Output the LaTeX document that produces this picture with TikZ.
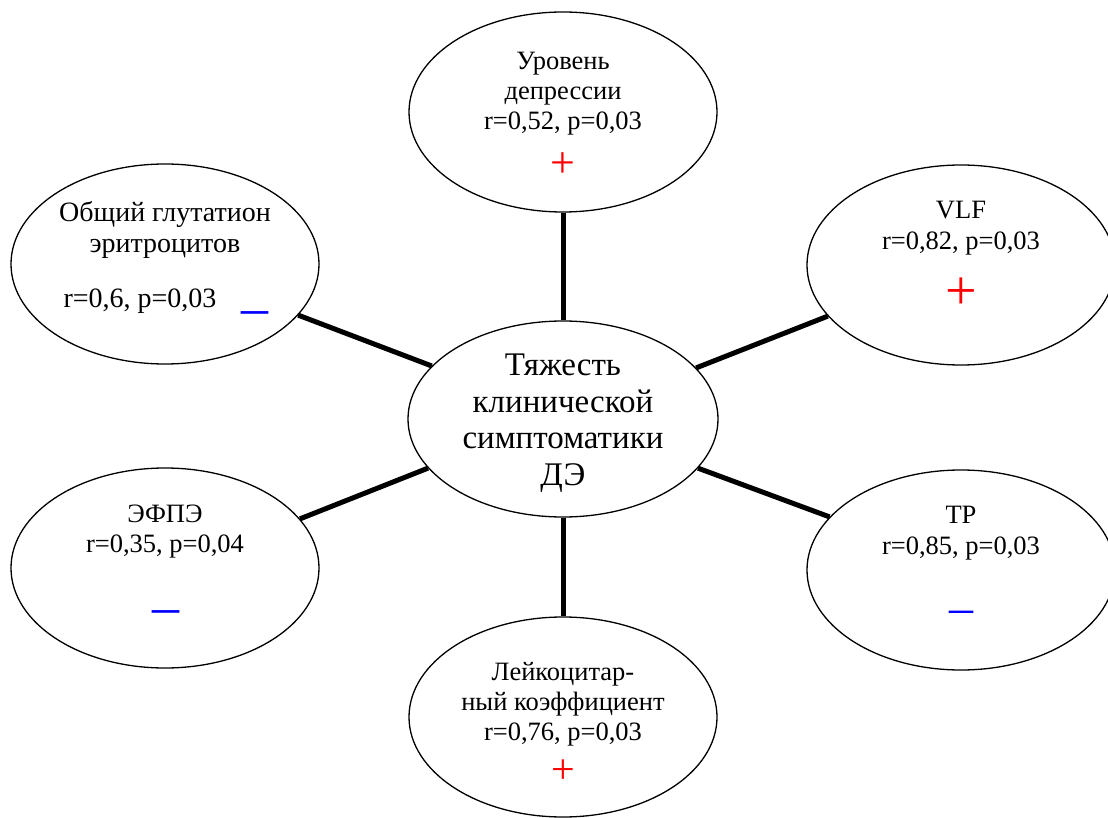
\documentclass[tikz,border=0pt]{standalone}
\usepackage{fontspec}
\setmainfont{Liberation Serif}
\usetikzlibrary{shapes.geometric}
\begin{document}
\begin{tikzpicture}[x=1pt,y=-1pt,
  ell/.style={draw,ellipse,line width=1.3pt,inner sep=0pt,minimum width=308pt,minimum height=200pt},
  conn/.style={line width=5pt},
  lbl/.style={inner sep=0pt,anchor=base,font=\fontsize{26.5}{30}\selectfont},
  lblbig/.style={inner sep=0pt,anchor=base,font=\fontsize{28}{31}\selectfont},
  title/.style={inner sep=0pt,anchor=base,font=\fontsize{33}{37}\selectfont},
  plussign/.style={inner sep=0pt,anchor=base,text=red},
  minussign/.style={inner sep=0pt,anchor=base,text=blue}]
\useasboundingbox[fill=white] (0,0) rectangle (1108,818);

% ellipses
\node[ell] (top) at (563,112) {};
\node[ell] (tl) at (165,264) {};
\node[ell] (tr) at (961,265) {};
\node[ell,minimum width=310pt,minimum height=196pt] (c) at (563,419) {};
\node[ell] (bl) at (165,568) {};
\node[ell] (br) at (961,570) {};
\node[ell] (b) at (563,717) {};

% connectors
\draw[conn] (top.south) -- (c.north);
\draw[conn] (c.south) -- (b.north);
\draw[conn] (tl.-21.9) -- (c.158.3);
\draw[conn] (c.21.9) -- (tr.201.4);
\draw[conn] (c.200.6) -- (bl.20.6);
\draw[conn] (c.-20.4) -- (br.158.6);

% centre text
\node[title] (c1) at (563,375) {Тяжесть};
\node[title] (c2) at (563,412) {клинической};
\node[title] (c3) at (563,448) {симптоматики};
\node[title] (c4) at (563,485) {ДЭ};

% top
\node[lbl] (top1) at (563,70) {Уровень};
\node[lbl] (top2) at (563,100) {депрессии};
\node[lbl] (top3) at (563,130) {r=0,52, p=0,03};
\node[plussign,font=\fontsize{44}{44}\selectfont] (topp) at (563,178) {+};

% top left
\node[lblbig] (tl1) at (165,222) {Общий глутатион};
\node[lblbig] (tl2) at (165,253) {эритроцитов};
\node[lblbig] (tl3) at (140,308) {r=0,6, p=0,03};
\node[minussign,font=\fontsize{54}{54}\selectfont] (tlm) at (254.5,325) {–};

% top right
\node[lbl] (tr1) at (961,219) {VLF};
\node[lbl] (tr2) at (961,250) {r=0,82, p=0,03};
\node[plussign,font=\fontsize{56}{56}\selectfont] (trp) at (961,309) {+};

% bottom left
\node[lbl] (bl1) at (165,522) {ЭФПЭ};
\node[lbl] (bl2) at (165,552) {r=0,35, p=0,04};
\node[minussign,font=\fontsize{54}{54}\selectfont] (blm) at (165.5,624) {–};

% bottom right
\node[lbl] (br1) at (961,523) {TP};
\node[lbl] (br2) at (961,554) {r=0,85, p=0,03};
\node[minussign,font=\fontsize{48}{48}\selectfont] (brm) at (961,623) {–};

% bottom
\node[lbl] (b1) at (563,680) {Лейкоцитар-};
\node[lbl] (b2) at (563,710) {ный коэффициент};
\node[lbl] (b3) at (563,740) {r=0,76, p=0,03};
\node[plussign,font=\fontsize{42}{42}\selectfont] (bp) at (563,783) {+};
\end{tikzpicture}
\end{document}
